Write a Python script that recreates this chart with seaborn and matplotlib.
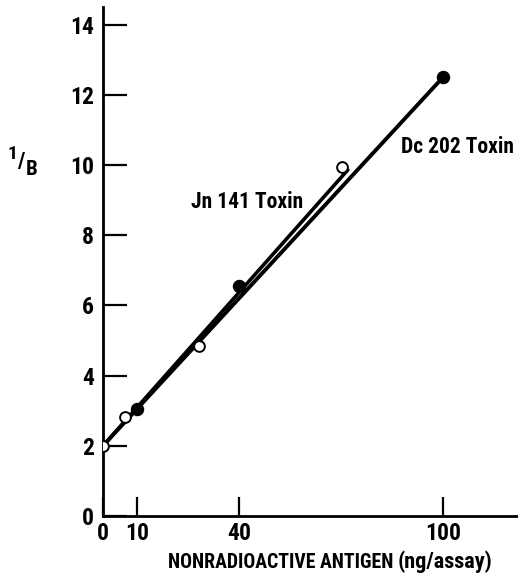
import matplotlib
matplotlib.use("Agg")
import matplotlib.pyplot as plt
import seaborn as sns

# data
dc_x = [10, 40, 100]
dc_y = [3.05, 6.55, 12.5]
jn_x = [0, 6.6, 28.3, 70.2]
jn_y = [2.0, 2.81, 4.84, 9.95]
dc_line_x = [0, 100]
dc_line_y = [2.0, 12.5]
jn_line_x = [0, 72]
jn_line_y = [2.0, 9.86]
xticks = [0, 10, 40, 100]
yticks = [0, 2, 4, 6, 8, 10, 12, 14]

sns.set_style("ticks")
FONT = ["Roboto Condensed", "DejaVu Sans"]
WT = 800
plt.rcParams["font.family"] = FONT
plt.rcParams["font.weight"] = WT
plt.rcParams["text.color"] = "black"
plt.rcParams["axes.labelcolor"] = "black"

W, H = 518, 574
fig = plt.figure(figsize=(5.18, 5.74), dpi=100)
ax = fig.add_axes([103 / W, 1 - 516 / H, (517 - 103) / W, (516 - 7) / H])

sns.lineplot(x=jn_line_x, y=jn_line_y, ax=ax, color="black", linewidth=2.6, zorder=2)
sns.lineplot(x=dc_line_x, y=dc_line_y, ax=ax, color="black", linewidth=2.8, zorder=2)
sns.scatterplot(x=dc_x, y=dc_y, ax=ax, color="black", s=75, edgecolor="black",
                linewidth=1.0, zorder=3)
sns.scatterplot(x=jn_x, y=jn_y, ax=ax, color="white", s=60, edgecolor="black",
                linewidth=1.4, zorder=4)

ax.set_xlim(0, (517 - 103) / 3.4)
ax.set_ylim(0, (516 - 7) / 35.1)
ax.set_xticks(xticks)
ax.set_yticks(yticks)
ax.set_xticklabels([str(v) for v in xticks])
ax.set_yticklabels([str(v) for v in yticks])
for s in ["top", "right"]:
    ax.spines[s].set_visible(False)
for s in ["left", "bottom"]:
    ax.spines[s].set_linewidth(2.0)
    ax.spines[s].set_color("black")
ax.tick_params(axis="y", direction="in", length=17, width=1.6, pad=6.5,
               labelsize=17, colors="black")
ax.tick_params(axis="x", direction="in", length=14, width=1.6, pad=4.0,
               labelsize=17, colors="black")
for lab in ax.get_xticklabels() + ax.get_yticklabels():
    lab.set_fontweight(WT)


def ftext(px, py, s, size, ha="center", va="baseline"):
    fig.text(px / W, 1 - py / H, s, fontsize=size, fontweight=WT,
             ha=ha, va=va, family=FONT, color="black")


# series labels
ftext(247.5, 208, "Jn 141 Toxin", 15.5)
ftext(457, 153, "Dc 202 Toxin", 15.5)

# y label 1/B
ftext(12.5, 159, "1", 14)
ftext(20.5, 168, "/", 16)
ftext(32, 175, "B", 15)

# x label
ftext(393, 568, "NONRADIOACTIVE ANTIGEN", 14.2, ha="right")
ftext(398, 568, "(ng/assay)", 16, ha="left")

fig.savefig("out.png", dpi=100, facecolor="white")
